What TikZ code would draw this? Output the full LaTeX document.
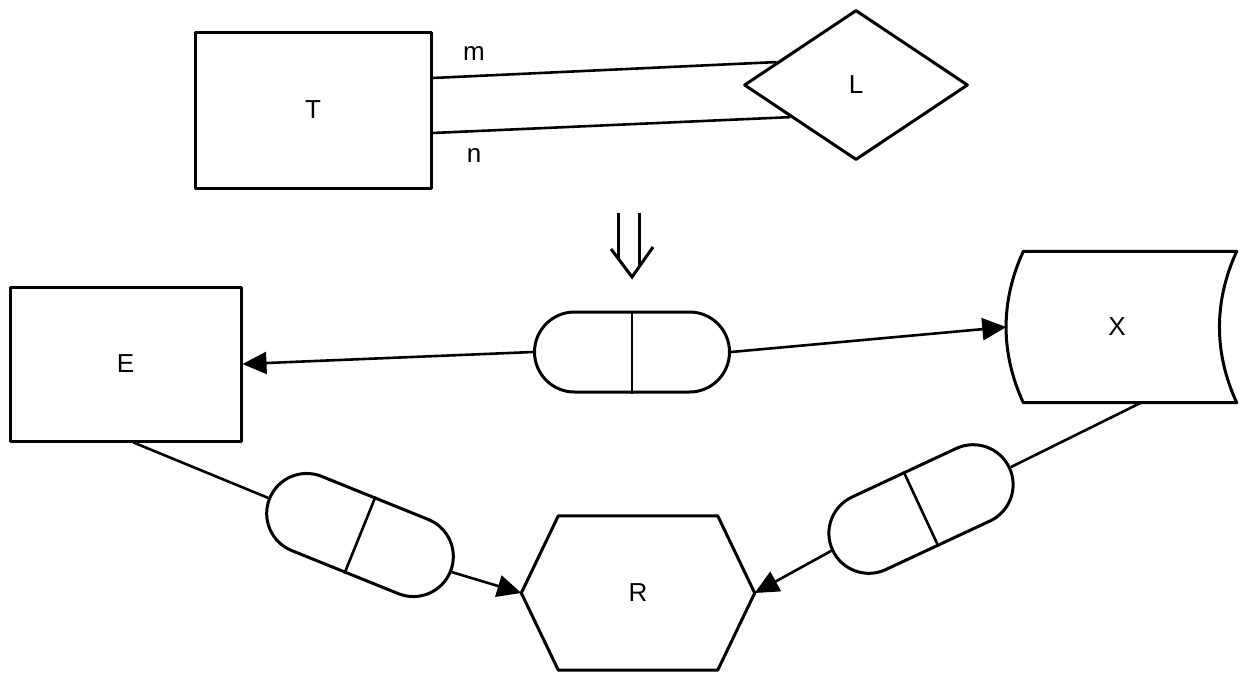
\documentclass[tikz,border=0pt]{standalone}
\usepackage{fontspec}
\setmainfont{Liberation Sans}
\usetikzlibrary{shapes.geometric,shapes.misc,arrows.meta,calc}
\tikzset{
  txt/.style={font=\fontsize{26}{30}\selectfont, inner sep=0pt},
  outline/.style={line width=3pt, line join=round},
  box/.style={txt, draw, outline, rectangle},
  capsule/.style={draw, line width=3pt, rounded rectangle, minimum width=195pt, minimum height=80pt, inner sep=0pt},
  conn/.style={line width=2.6pt},
  arr/.style={conn, -{Triangle[length=24pt,width=22pt]}},
}
\begin{document}
\begin{tikzpicture}[x=1pt,y=-1pt]
\useasboundingbox (0,0) rectangle (1241,675);
% top part
\node[box, minimum width=236pt, minimum height=156pt] (T) at (313,110) {T};
\node[txt, draw, outline, diamond, minimum width=224pt, minimum height=150pt] (L) at (856,85) {L};
\draw[conn] ([yshift=32pt]T.east) -- ($(L.west)!0.3!(L.north)$);
\draw[conn] ([yshift=-23pt]T.east) -- ($(L.west)!0.42!(L.south)$);
\node[txt] (m) at (474,54) {m};
\node[txt] (n) at (474,156) {n};
% double arrow
\draw[line width=3pt] (618,213) -- (618,258);
\draw[line width=3pt] (639,213) -- (639,266);
\draw[line width=3pt, line join=miter] (611,249) -- (632,277) -- (653,247);
% bottom part
\node[box, minimum width=231pt, minimum height=154pt] (E) at (125.5,364) {E};
\node[txt, minimum width=213pt, minimum height=151pt] (X) at (1130,327) {\hspace*{-26pt}X};
\draw[outline] (X.north west) -- (X.north east)
  .. controls ($(X.north east)!0.33!(X.south east)+(-23,0)$) and ($(X.north east)!0.67!(X.south east)+(-23,0)$) .. (X.south east)
  -- (X.south west)
  .. controls ($(X.north west)!0.67!(X.south west)+(-23,0)$) and ($(X.north west)!0.33!(X.south west)+(-23,0)$) .. cycle;
\coordinate (Xin) at ([xshift=-17pt]X.west);
\node[txt, minimum width=233pt, minimum height=154pt] (R) at (638,593) {R};
\draw[outline] (R.west) -- ([xshift=37pt]R.north west) -- ([xshift=-37pt]R.north east) -- (R.east) -- ([xshift=-37pt]R.south east) -- ([xshift=37pt]R.south west) -- cycle;
% capsules
\node[capsule] (C1) at (632,352) {};
\draw[line width=2.6pt] (C1.north) -- (C1.south);
\node[capsule, rotate=-22] (C2) at (360,535) {};
\draw[line width=2.6pt] (C2.north) -- (C2.south);
\node[capsule, rotate=25] (C3) at (921,509) {};
\draw[line width=2.6pt] (C3.north) -- (C3.south);
% connectors
\draw[arr] (C1.west) -- (E.east);
\draw[arr] (C1.east) -- (Xin);
\draw[conn] ([xshift=8pt]E.south) -- (C2.west);
\draw[arr] (C2.east) -- (R.west);
\draw[conn] ([xshift=11pt]X.south) -- (C3.east);
\draw[arr] (C3.west) -- (R.east);
\end{tikzpicture}
\end{document}
